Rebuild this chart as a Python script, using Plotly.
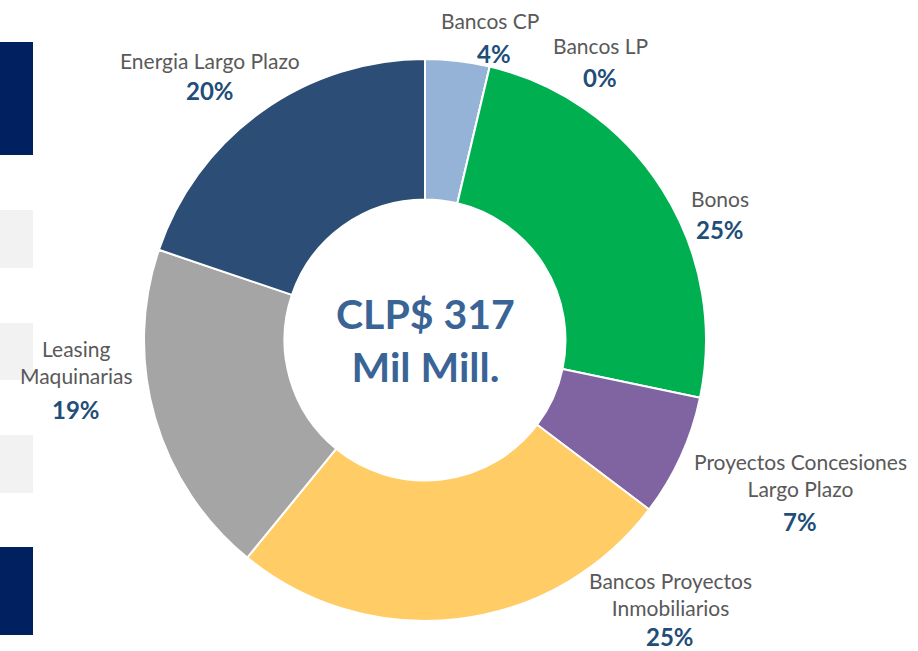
import plotly.graph_objects as go

# ---- data ----
categories = ["Bancos CP", "Bancos LP", "Bonos", "Proyectos Concesiones Largo Plazo",
              "Bancos Proyectos Inmobiliarios", "Leasing Maquinarias", "Energia Largo Plazo"]
shares = [3.7, 0.0, 24.6, 7.0, 25.6, 19.3, 19.8]
pct_labels = ["4%", "0%", "25%", "7%", "25%", "19%", "20%"]
label_lines = ["Bancos CP", "Bancos LP", "Bonos", "Proyectos Concesiones<br>Largo Plazo",
               "Bancos Proyectos<br>Inmobiliarios", "Leasing<br>Maquinarias", "Energia Largo Plazo"]
center_text = "CLP$ 317<br>Mil Mill."

# ---- style ----
W, H = 918, 651
colors = ["#95B3D7", "#4F81BD", "#00B050", "#8064A2", "#FFCC66", "#A5A5A5", "#2C4D75"]
name_color = "#595959"
pct_color = "#1F4E79"
FONT = "Lato"

def px(x):
    return x / W

def py(y):
    return 1 - y / H

cx, cy, R = 425, 340, 281

fig = go.Figure(go.Pie(
    labels=categories,
    values=shares,
    sort=False,
    direction="clockwise",
    rotation=0,
    hole=0.5,
    marker=dict(colors=colors, line=dict(color="white", width=2)),
    textinfo="none",
    hoverinfo="label+percent",
    showlegend=False,
    domain=dict(x=[px(cx - R), px(cx + R)], y=[py(cy + R), py(cy - R)]),
))

# label anchor positions (pixel centres of name block and percentage)
name_pos = [(490, 20), (600, 46), (720, 198), (800, 475), (670, 594), (76, 362), (210, 60)]
pct_pos = [(494, 53), (600, 77), (720, 229), (800, 521), (670, 636), (76, 409), (210, 91)]

annotations = []
for txt, pct, (nx, ny), (qx, qy) in zip(label_lines, pct_labels, name_pos, pct_pos):
    annotations.append(dict(x=px(nx), y=py(ny), xref="paper", yref="paper", text=txt,
                            showarrow=False, xanchor="center", yanchor="middle", align="center",
                            font=dict(family=FONT, size=21, color=name_color)))
    annotations.append(dict(x=px(qx), y=py(qy), xref="paper", yref="paper", text="<b>" + pct + "</b>",
                            showarrow=False, xanchor="center", yanchor="middle",
                            font=dict(family=FONT, size=24, color=pct_color)))

annotations.append(dict(x=px(cx), y=py(cy), xref="paper", yref="paper",
                        text="<b>" + center_text + "</b>", showarrow=False,
                        xanchor="center", yanchor="middle", align="center",
                        font=dict(family=FONT, size=41, color="#3A6496")))

shapes = []
for (y0, y1, col) in [(42, 155, "#002060"), (210, 268, "#F2F2F2"), (323, 380, "#F2F2F2"),
                      (435, 493, "#F2F2F2"), (547, 635, "#002060")]:
    shapes.append(dict(type="rect", xref="paper", yref="paper", x0=0, x1=px(33),
                       y0=py(y1), y1=py(y0), fillcolor=col, line=dict(width=0), layer="below"))

fig.update_layout(
    width=W, height=H,
    margin=dict(l=0, r=0, t=0, b=0),
    paper_bgcolor="white", plot_bgcolor="white",
    annotations=annotations, shapes=shapes,
    font=dict(family=FONT),
)

fig.write_html("out.html", config={"displayModeBar": False},
               post_script="document.body.style.margin='0';document.body.style.overflow='hidden';")
